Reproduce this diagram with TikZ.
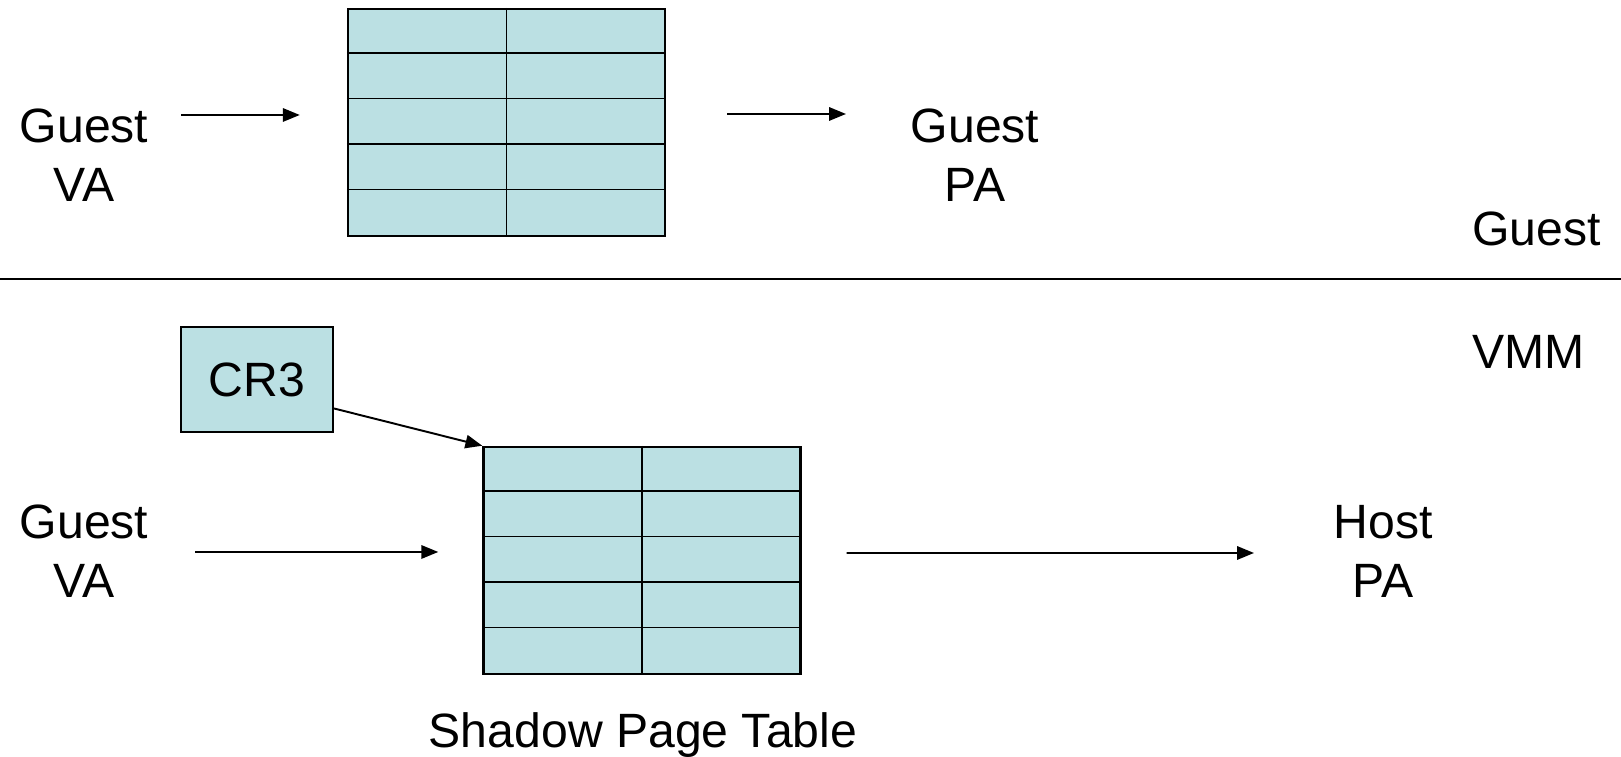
\documentclass[tikz,border=0pt]{standalone}
\usepackage{fontspec}
\setmainfont{Liberation Sans}
\usetikzlibrary{arrows.meta}
\definecolor{tablefill}{RGB}{187,224,227}
\tikzset{
    lbl/.style={align=center,font=\fontsize{13.7}{16.8}\selectfont},
    ptable/.style={draw,line width=0.7pt,fill=tablefill,inner sep=0pt,
        minimum width=3.17cm,minimum height=2.27cm},
    ptr/.style={-{Triangle[length=4.8pt,width=3.8pt]},line width=0.55pt},
}
\begin{document}
\begin{tikzpicture}
            \useasboundingbox (0,0) rectangle (16.21,7.57);
            % guest side
            \node[lbl] (gva1) at (0.84,6.02) {Guest\\VA};
            \node[ptable] (ptab) at (5.065,6.345) {};
            \node[lbl] (gpa) at (9.75,6.02) {Guest\\PA};
            \node[lbl,anchor=base west] (guest) at (14.60,5.11) {Guest};
            \draw[line width=0.6pt] (0,4.78) -- (16.21,4.78);
            % vmm side
            \node[lbl,anchor=base west] (vmm) at (14.60,3.88) {VMM};
            \node[lbl,draw,line width=0.6pt,fill=tablefill,minimum width=1.52cm,minimum height=1.05cm] (cr3) at (2.57,3.775) {CR3};
            \node[lbl] (gva2) at (0.84,2.06) {Guest\\VA};
            \node[ptable] (stab) at (6.42,1.965) {};
            \node[lbl] (hpa) at (13.83,2.06) {Host\\PA};
            \node[lbl,anchor=base] (stlabel) at (6.43,0.09) {Shadow Page Table};
            \foreach \t in {ptab,stab} {
                \draw[line width=0.4pt] (\t.north) -- (\t.south);
                \foreach \i in {1,...,4}
                    \draw[line width=0.4pt] ([yshift=-\i*0.454cm]\t.north west) -- ([yshift=-\i*0.454cm]\t.north east);
            }
            \draw[ptr] ([xshift=0.97cm,yshift=0.40cm]gva1.center) -- ([xshift=-0.47cm,yshift=0.075cm]ptab.west);
            \draw[ptr] ([xshift=0.61cm,yshift=0.085cm]ptab.east) -- ([xshift=-1.29cm,yshift=0.41cm]gpa.center);
            \draw[ptr] ([yshift=-0.29cm]cr3.east) -- (stab.north west);
            \draw[ptr] ([xshift=1.11cm,yshift=-0.01cm]gva2.center) -- ([xshift=-0.44cm,yshift=0.085cm]stab.west);
            \draw[ptr] ([xshift=0.45cm,yshift=0.075cm]stab.east) -- ([xshift=-1.29cm,yshift=-0.02cm]hpa.center);
        \end{tikzpicture}
\end{document}
